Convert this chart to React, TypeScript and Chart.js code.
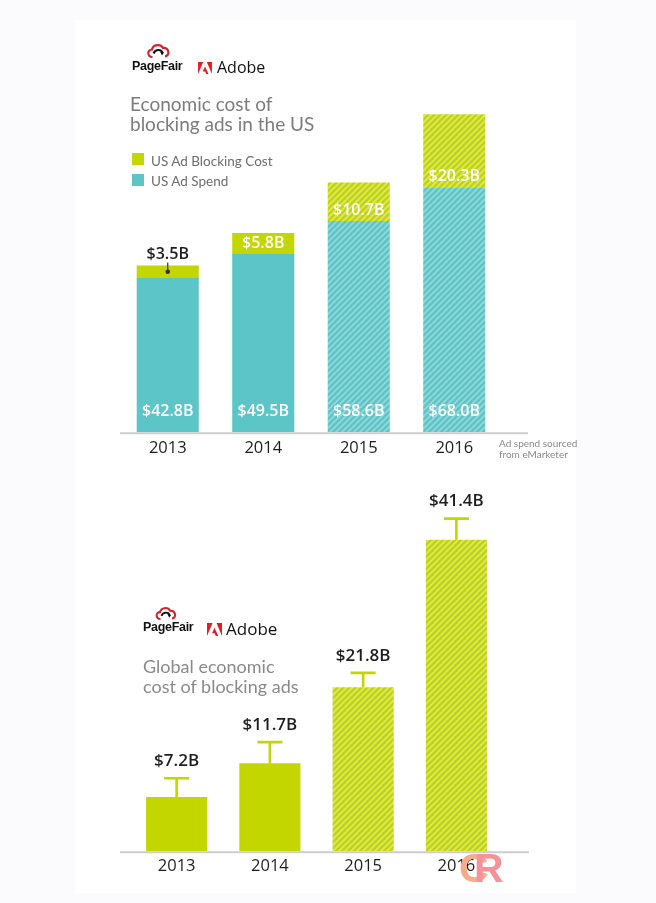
import React, { useEffect, useRef } from 'react';
import { Chart, registerables } from 'chart.js';

Chart.register(...registerables);

// ---------- data ----------
const years = ['2013', '2014', '2015', '2016'];
const usAdSpend = [42.8, 49.5, 58.6, 68.0];
const usAdBlockingCost = [3.5, 5.8, 10.7, 20.3];
const globalBlockingCost = [7.2, 11.7, 21.8, 41.4];
const globalBlockingCostHigh = [9.7, 14.5, 23.7, 44.2];
const isForecast = [false, false, true, true];

// ---------- style ----------
const TEAL = '#5bc5c8';
const TEAL_STRIPE = '#93d9db';
const GREEN = '#c3d600';
const GREEN_STRIPE = '#dce86c';
const INK = '#1e1e1e';
const SANS = '"Open Sans", "Noto Sans", sans-serif';
const LATO = 'Lato, "Open Sans", sans-serif';
const fmt = (v: number) => '$' + v.toFixed(1) + 'B';

Chart.defaults.font.family = SANS;

function makeHatch(ctx: CanvasRenderingContext2D, base: string, stripe: string) {
  const s = 6;
  const c = document.createElement('canvas');
  c.width = s;
  c.height = s;
  const g = c.getContext('2d')!;
  g.fillStyle = base;
  g.fillRect(0, 0, s, s);
  g.strokeStyle = stripe;
  g.lineWidth = 1.7;
  g.beginPath();
  g.moveTo(0, s);
  g.lineTo(s, 0);
  g.moveTo(-1, 1);
  g.lineTo(1, -1);
  g.moveTo(s - 1, s + 1);
  g.lineTo(s + 1, s - 1);
  g.stroke();
  return ctx.createPattern(c, 'repeat')!;
}

const baselinePlugin = {
  id: 'baseline',
  afterDatasetsDraw(chart: any, _args: any, opts: any) {
    const { ctx, chartArea } = chart;
    ctx.save();
    ctx.strokeStyle = '#cdcdcd';
    ctx.lineWidth = 2;
    ctx.beginPath();
    ctx.moveTo(chartArea.left - (opts.extendLeft || 0), chartArea.bottom + 1);
    ctx.lineTo(chartArea.right + (opts.extendRight || 0), chartArea.bottom + 1);
    ctx.stroke();
    ctx.restore();
  },
};

const usLabelsPlugin = {
  id: 'usLabels',
  afterDatasetsDraw(chart: any) {
    const { ctx } = chart;
    const spendMeta = chart.getDatasetMeta(0);
    const costMeta = chart.getDatasetMeta(1);
    ctx.save();
    ctx.font = `600 16px ${SANS}`;
    ctx.textAlign = 'center';
    ctx.textBaseline = 'middle';
    spendMeta.data.forEach((el: any, i: number) => {
      ctx.fillStyle = '#ffffff';
      ctx.fillText(fmt(usAdSpend[i]), el.x, el.base - 21);
    });
    costMeta.data.forEach((el: any, i: number) => {
      const top = el.y;
      const base = el.base;
      const mid = (top + base) / 2;
      if (base - top >= 18) {
        ctx.fillStyle = '#ffffff';
        ctx.fillText(fmt(usAdBlockingCost[i]), el.x, Math.max(mid, base - 11));
      } else {
        ctx.fillStyle = INK;
        ctx.fillText(fmt(usAdBlockingCost[i]), el.x, top - 11);
        ctx.strokeStyle = '#333';
        ctx.lineWidth = 1.2;
        ctx.beginPath();
        ctx.moveTo(el.x, top - 3);
        ctx.lineTo(el.x, mid);
        ctx.stroke();
        ctx.fillStyle = '#333';
        ctx.beginPath();
        ctx.arc(el.x, mid, 2.3, 0, Math.PI * 2);
        ctx.fill();
      }
    });
    ctx.restore();
  },
};

const errorBarPlugin = {
  id: 'errorBars',
  afterDatasetsDraw(chart: any) {
    const { ctx } = chart;
    const meta = chart.getDatasetMeta(0);
    const yScale = chart.scales.y;
    ctx.save();
    meta.data.forEach((el: any, i: number) => {
      const hi = yScale.getPixelForValue(globalBlockingCostHigh[i]);
      ctx.strokeStyle = GREEN;
      ctx.lineWidth = 2.6;
      ctx.beginPath();
      ctx.moveTo(el.x, el.y);
      ctx.lineTo(el.x, hi);
      ctx.moveTo(el.x - 12.5, hi);
      ctx.lineTo(el.x + 12.5, hi);
      ctx.stroke();
      ctx.fillStyle = INK;
      ctx.font = `600 17px ${SANS}`;
      ctx.textAlign = 'center';
      ctx.textBaseline = 'middle';
      ctx.fillText(fmt(globalBlockingCost[i]), el.x, hi - 17);
    });
    ctx.restore();
  },
};

// ---------- small logo pieces ----------
function CloudIcon({ left, top, w, h }: { left: number; top: number; w: number; h: number }) {
  return (
    <svg style={{ position: 'absolute', left, top }} width={w} height={h} viewBox="0 0 26 16">
      <path d="M7 14 C1.5 14 1.5 6.5 6.5 6.5 C7.5 1.5 15 0.5 17.5 5 C23.5 4.5 25 12.5 19.5 13.5" fill="none" stroke="#d2232f" strokeWidth="2.2" />
      <path d="M8 10.5 C10 6 16 6 17 10" fill="none" stroke="#111" strokeWidth="2" />
      <path d="M14.5 8.5 L18.5 9.5 L16.5 12.5 Z" fill="#111" />
    </svg>
  );
}

function AdobeIcon({ left, top, w, h }: { left: number; top: number; w: number; h: number }) {
  return (
    <svg style={{ position: 'absolute', left, top }} width={w} height={h} viewBox="0 0 30 26">
      <polygon points="11,0 0,0 0,26" fill="#e31b23" />
      <polygon points="19,0 30,0 30,26" fill="#e31b23" />
      <polygon points="15,9.5 22.5,26 17.5,26 15.3,20.5 10,20.5" fill="#e31b23" />
    </svg>
  );
}

function Txt(props: {
  left: number;
  top: number;
  size: number;
  lh?: number;
  color?: string;
  family?: string;
  weight?: number;
  ls?: number;
  children: React.ReactNode;
}) {
  return (
    <div
      style={{
        position: 'absolute',
        left: props.left,
        top: props.top,
        fontSize: props.size,
        lineHeight: (props.lh ?? props.size) + 'px',
        color: props.color ?? INK,
        fontFamily: props.family ?? SANS,
        fontWeight: props.weight ?? 400,
        letterSpacing: props.ls ?? 0,
        whiteSpace: 'nowrap',
      }}
    >
      {props.children}
    </div>
  );
}

export default function App() {
  const topRef = useRef<HTMLCanvasElement>(null);
  const botRef = useRef<HTMLCanvasElement>(null);

  useEffect(() => {
    const topCanvas = topRef.current!;
    const botCanvas = botRef.current!;
    const tctx = topCanvas.getContext('2d')!;
    const bctx = botCanvas.getContext('2d')!;
    const tealHatch = makeHatch(tctx, TEAL, TEAL_STRIPE);
    const greenHatchTop = makeHatch(tctx, GREEN, GREEN_STRIPE);
    const greenHatchBot = makeHatch(bctx, GREEN, GREEN_STRIPE);

    const xAxis = (padding: number) => ({
      stacked: true,
      grid: { display: false, drawTicks: false },
      border: { display: false },
      ticks: { color: INK, font: { size: 16.5, family: SANS }, padding },
    });

    const topChart = new Chart(topCanvas, {
      type: 'bar',
      data: {
        labels: years,
        datasets: [
          {
            label: 'US Ad Spend',
            data: usAdSpend,
            backgroundColor: isForecast.map((f) => (f ? tealHatch : TEAL)),
            stack: 'us',
            barPercentage: 0.65,
            categoryPercentage: 1,
          },
          {
            label: 'US Ad Blocking Cost',
            data: usAdBlockingCost,
            backgroundColor: isForecast.map((f) => (f ? greenHatchTop : GREEN)),
            stack: 'us',
            barPercentage: 0.65,
            categoryPercentage: 1,
          },
        ],
      },
      options: {
        animation: false,
        responsive: false,
        maintainAspectRatio: false,
        events: [],
        layout: { padding: { left: 120, right: 154, top: 72, bottom: 6 } },
        scales: {
          x: xAxis(6) as any,
          y: { stacked: true, display: false, min: 0, max: 100 },
        },
        plugins: {
          legend: { display: false },
          tooltip: { enabled: false },
          baseline: { extendLeft: 0, extendRight: 26 },
        } as any,
      },
      plugins: [baselinePlugin, usLabelsPlugin],
    });

    const botChart = new Chart(botCanvas, {
      type: 'bar',
      data: {
        labels: years,
        datasets: [
          {
            label: 'Global ad blocking cost',
            data: globalBlockingCost,
            backgroundColor: isForecast.map((f) => (f ? greenHatchBot : GREEN)),
            barPercentage: 0.655,
            categoryPercentage: 1,
          },
        ],
      },
      options: {
        animation: false,
        responsive: false,
        maintainAspectRatio: false,
        events: [],
        layout: { padding: { left: 130, right: 153, top: 20, bottom: 22 } },
        scales: {
          x: xAxis(5) as any,
          y: { display: false, min: 0, max: 48 },
        },
        plugins: {
          legend: { display: false },
          tooltip: { enabled: false },
          baseline: { extendLeft: 10, extendRight: 26 },
        } as any,
      },
      plugins: [baselinePlugin, errorBarPlugin],
    });

    return () => {
      topChart.destroy();
      botChart.destroy();
    };
  }, []);

  return (
    <div
      style={{
        position: 'absolute',
        left: 0,
        top: 0,
        width: 656,
        height: 903,
        background: '#fbfbfd',
        overflow: 'hidden',
        fontFamily: SANS,
      }}
    >
      <div style={{ position: 'absolute', left: 75, top: 20, width: 501, height: 873, background: '#ffffff' }} />
      <canvas ref={topRef} width={656} height={470} style={{ position: 'absolute', left: 0, top: 0 }} />
      <canvas ref={botRef} width={656} height={433} style={{ position: 'absolute', left: 0, top: 470 }} />

      {/* top chart header */}
      <CloudIcon left={145} top={43} w={27} h={16} />
      <Txt left={132} top={60} size={12.5} weight={700} family='"Liberation Sans", Arial, sans-serif' ls={-0.3} color="#111">
        PageFair
      </Txt>
      <AdobeIcon left={197} top={62} w={16} h={12} />
      <Txt left={217} top={59} size={16} color="#111">
        Adobe
      </Txt>
      <Txt left={130} top={94} size={19} lh={20} family={LATO} color="#7c7c7c">
        Economic cost of
        <br />
        blocking ads in the US
      </Txt>
      <div style={{ position: 'absolute', left: 132, top: 153, width: 12, height: 12, background: GREEN }} />
      <Txt left={151} top={153.5} size={13.5} lh={14} family={LATO} color="#6d6d6d">
        US Ad Blocking Cost
      </Txt>
      <div style={{ position: 'absolute', left: 132, top: 174, width: 12, height: 12, background: TEAL }} />
      <Txt left={151} top={174} size={13.5} lh={14} family={LATO} color="#6d6d6d">
        US Ad Spend
      </Txt>
      <Txt left={499} top={437.5} size={10} lh={11} family={LATO} color="#8a8a8a">
        Ad spend sourced
        <br />
        from eMarketer
      </Txt>

      {/* bottom chart header */}
      <CloudIcon left={154} top={606} w={24} h={15} />
      <Txt left={143} top={621} size={12.5} weight={700} family='"Liberation Sans", Arial, sans-serif' ls={-0.3} color="#111">
        PageFair
      </Txt>
      <AdobeIcon left={207} top={623} w={15} h={13} />
      <Txt left={226} top={620} size={17} color="#111">
        Adobe
      </Txt>
      <Txt left={143} top={656} size={18} lh={20} family={LATO} color="#8a8a8a">
        Global economic
        <br />
        cost of blocking ads
      </Txt>

      {/* watermark */}
      <Txt left={459} top={848} size={41} weight={700} family='"Liberation Sans", Arial, sans-serif' color="#f6ab8c">
        C
      </Txt>
      <Txt left={474} top={848} size={41} weight={700} family='"Liberation Sans", Arial, sans-serif' color="#f5929a">
        R
      </Txt>
    </div>
  );
}
